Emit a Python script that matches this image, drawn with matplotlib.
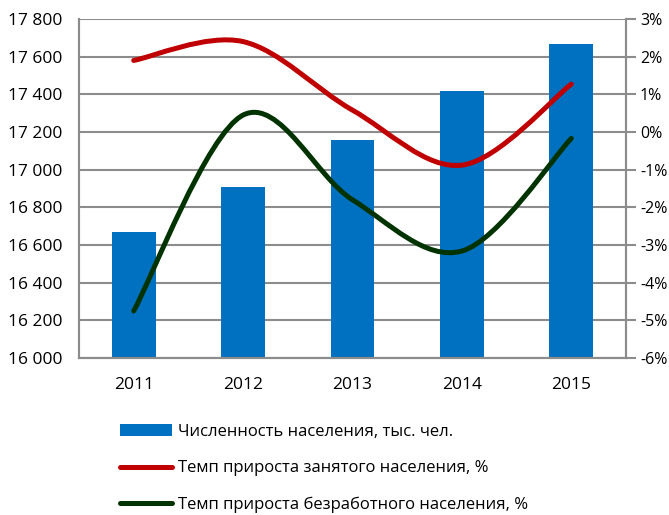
import matplotlib
matplotlib.use("Agg")
import matplotlib.pyplot as plt
from matplotlib.path import Path
from matplotlib.patches import PathPatch
from matplotlib.lines import Line2D
from matplotlib.patches import Patch
from matplotlib.ticker import FuncFormatter, MultipleLocator

plt.rcParams['font.family'] = ['Open Sans', 'DejaVu Sans']
plt.rcParams['axes.unicode_minus'] = False

years = ["2011", "2012", "2013", "2014", "2015"]
population = [16670, 16906, 17159, 17416, 17669]
employed_growth = [1.90, 2.40, 0.58, -0.88, 1.27]
unemployed_growth = [-4.75, 0.45, -1.80, -3.16, -0.17]

labels = ["Численность населения, тыс. чел.",
          "Темп прироста занятого населения, %",
          "Темп прироста безработного населения, %"]

BLUE = "#0070C0"
RED = "#C00000"
GREEN = "#003300"
GRID = "#8C8C8C"

fig = plt.figure(figsize=(6.69, 5.15), dpi=100)
ax = fig.add_axes([79/669, 1-358/515, (626-79)/669, (358-19)/515])
ax2 = ax.twinx()

x = list(range(len(years)))
ax.bar(x, population, width=0.4, color=BLUE, zorder=2)
ax.set_ylim(16000, 17800)
ax.set_xlim(-0.5, len(years)-0.5)
ax.yaxis.set_major_locator(MultipleLocator(200))
ax.yaxis.set_major_formatter(FuncFormatter(lambda v, p: f"{int(v):,}".replace(",", " ")))
ax.grid(axis='y', color=GRID, linewidth=1.5, zorder=0)
ax.set_axisbelow(True)
ax.set_xticks(x)
ax.set_xticklabels(years)
ax.tick_params(axis='x', length=0, pad=14, labelsize=12.5)
ax.tick_params(axis='y', length=0, pad=12, labelsize=12.5)

ax2.set_ylim(-6, 3)
ax2.yaxis.set_major_locator(MultipleLocator(1))
ax2.yaxis.set_major_formatter(FuncFormatter(lambda v, p: f"{int(round(v))}%"))
ax2.tick_params(axis='y', length=7, width=1.5, color=GRID, pad=3, labelsize=11.5, direction='out')

for a in (ax, ax2):
    a.spines['top'].set_visible(False)
    for s in ('left', 'right', 'bottom'):
        a.spines[s].set_color(GRID)
        a.spines[s].set_linewidth(1.5)


def smooth_path(xs, ys):
    pts = list(zip(xs, ys))
    verts = [pts[0]]
    codes = [Path.MOVETO]
    n = len(pts)
    for i in range(n - 1):
        p0 = pts[i - 1] if i > 0 else pts[i]
        p1 = pts[i]
        p2 = pts[i + 1]
        p3 = pts[i + 2] if i + 2 < n else pts[i + 1]
        c1 = (p1[0] + (p2[0] - p0[0]) / 6, p1[1] + (p2[1] - p0[1]) / 6)
        c2 = (p2[0] - (p3[0] - p1[0]) / 6, p2[1] - (p3[1] - p1[1]) / 6)
        verts += [c1, c2, p2]
        codes += [Path.CURVE4] * 3
    return Path(verts, codes)


for ys, col in ((employed_growth, RED), (unemployed_growth, GREEN)):
    patch = PathPatch(smooth_path(x, ys), facecolor='none', edgecolor=col,
                      linewidth=3.6, capstyle='round', joinstyle='round', zorder=3)
    ax2.add_patch(patch)

handles = [Patch(facecolor=BLUE, edgecolor='none'),
           Line2D([], [], color=RED, linewidth=3.6, solid_capstyle='round'),
           Line2D([], [], color=GREEN, linewidth=3.6, solid_capstyle='round')]
fig.legend(handles, labels, loc='upper left', bbox_to_anchor=(120/669, 1-424/515),
           frameon=False, fontsize=12, handlelength=3.1, handleheight=0.7,
           handletextpad=0.35, labelspacing=1.22, borderpad=0, borderaxespad=0)

fig.savefig("out.png", dpi=100)
